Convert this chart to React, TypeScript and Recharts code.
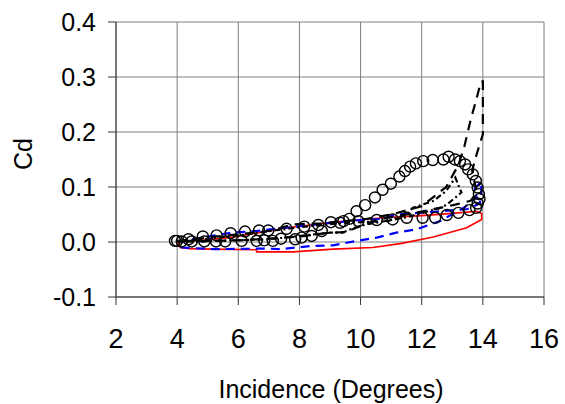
import React from 'react'
import {
  ComposedChart,
  Line,
  Scatter,
  XAxis,
  YAxis,
  CartesianGrid,
} from 'recharts'

// experiment (open circles)
const expIncidence = [
  4.0, 4.37, 4.84, 5.29, 5.75, 6.22, 6.68, 6.98, 7.58, 8.16, 8.62, 9.03, 9.44, 9.63,
  9.87, 10.15, 10.47, 10.72, 10.99, 11.27, 11.45, 11.62, 11.81, 12.05, 12.36, 12.71,
  12.88, 13.09, 13.25, 13.42, 13.52, 13.67, 13.77, 13.83, 13.87, 13.89, 13.83, 13.78,
  13.56, 13.2, 12.82, 12.44, 12.03, 11.51, 11.05, 10.53, 9.93, 9.33, 8.73, 8.4, 8.07,
  7.86, 7.4, 7.13, 6.85, 6.6, 6.11, 5.57, 5.27, 4.89, 4.48, 4.15, 3.93,
]
const expCd = [
  0.002, 0.005, 0.01, 0.012, 0.016, 0.019, 0.021, 0.021, 0.024, 0.028, 0.031, 0.036,
  0.038, 0.042, 0.056, 0.067, 0.081, 0.095, 0.106, 0.119, 0.129, 0.137, 0.143, 0.147,
  0.149, 0.15, 0.155, 0.15, 0.147, 0.141, 0.132, 0.123, 0.111, 0.099, 0.087, 0.078,
  0.07, 0.062, 0.058, 0.053, 0.049, 0.044, 0.044, 0.044, 0.041, 0.04, 0.038, 0.035,
  0.02, 0.011, 0.008, 0.005, 0.006, 0.002, 0.003, 0.002, 0.002, 0.001, 0.001, 0.001,
  0.001, 0.001, 0.002,
]

// red solid loop
const redIncidence = [
  4, 5, 5.7, 7, 7.6, 9, 10, 11, 12, 13, 13.8, 13.96, 13.96, 13.47, 12.38, 11.3, 10.4,
  9.1, 7.8, 6.6, 6.6, 5.1, 4.4, 4.1, 4,
]
const redCd = [
  0.0, 0.004, 0.008, 0.02, 0.026, 0.035, 0.041, 0.045, 0.048, 0.052, 0.056, 0.052,
  0.041, 0.026, 0.009, -0.003, -0.01, -0.013, -0.018, -0.018, -0.014, -0.013, -0.012,
  -0.01, 0.0,
]

// blue dashed loop
const blueIncidence = [
  4, 5, 5.8, 6.6, 8.2, 10, 10.7, 11.2, 12.6, 13.5, 13.9, 13.95, 13.95, 13.7, 13.8,
  13.37, 12.6, 11.83, 11.17, 10.53, 9.87, 9.1, 8.45, 7.36, 6.93, 5.18, 4.15, 4,
]
const blueCd = [
  0.0, 0.01, 0.017, 0.02, 0.03, 0.04, 0.042, 0.05, 0.056, 0.06, 0.07, 0.09, 0.11,
  0.095, 0.081, 0.062, 0.038, 0.023, 0.017, 0.008, 0.002, -0.006, -0.007, -0.013,
  -0.012, -0.013, -0.01, -0.005,
]

// black long dash loop (with the spike at 14 deg)
const dashIncidence = [
  4, 5, 6, 7, 7.8, 8.7, 9.5, 10.2, 11, 12, 12.8, 13.2, 13.4, 13.6, 13.8, 13.94, 14,
  14, 13.9, 13.8, 13.65, 13.8, 13.6, 13.1, 12.6, 11.5, 10.5, 9.5, 9.0, 8.0, 7.0, 6.0,
  5.0, 4.0,
]
const dashCd = [
  0.002, 0.008, 0.014, 0.02, 0.032, 0.034, 0.038, 0.042, 0.05, 0.065, 0.1, 0.14, 0.175,
  0.222, 0.262, 0.292, 0.292, 0.196, 0.178, 0.16, 0.13, 0.09, 0.075, 0.068, 0.062,
  0.05, 0.04, 0.018, 0.017, 0.01, 0.006, 0.003, 0.002, 0.002,
]

// black dash-dot loop
const dotIncidence = [
  4, 6, 8, 9.5, 10.9, 11.5, 11.7, 12.4, 12.8, 13.1, 13.3, 12.82, 12.6, 11.5, 10.2,
  9.8, 9.4, 9.0, 7.0, 4.0,
]
const dotCd = [
  0.0, 0.012, 0.027, 0.035, 0.038, 0.05, 0.062, 0.075, 0.093, 0.117, 0.09, 0.068,
  0.062, 0.045, 0.032, 0.026, 0.017, 0.017, 0.005, 0.0,
]

const xTicks = [2, 4, 6, 8, 10, 12, 14, 16]
const yTicks = [-0.1, 0, 0.1, 0.2, 0.3, 0.4]

const zip = (xs: number[], ys: number[]) => xs.map((x, i) => ({ x, y: ys[i] }))

const expData = zip(expIncidence, expCd)
const redData = zip(redIncidence, redCd)
const blueData = zip(blueIncidence, blueCd)
const dashData = zip(dashIncidence, dashCd)
const dotData = zip(dotIncidence, dotCd)

const font = '"Liberation Sans", Arial, sans-serif'

const OpenCircle = (p: any) => (
  <circle cx={p.cx} cy={p.cy} r={5.5} fill="none" stroke="#000" strokeWidth={1.4} />
)

export default function App() {
  return (
    <div style={{ width: 565, height: 404, background: '#fff', fontFamily: font }}>
      <style>{'body{margin:0}'}</style>
      <ComposedChart
        width={565}
        height={404}
        margin={{ top: 22, right: 21, bottom: 0, left: 0 }}
      >
        <CartesianGrid stroke="#7f7f7f" strokeWidth={1} ticks={undefined} />
        <XAxis
          type="number"
          dataKey="x"
          domain={[2, 16]}
          ticks={xTicks}
          interval={0}
          height={107}
          tickSize={8}
          tickMargin={24}
          stroke="#333"
          tick={{ fill: '#000', fontSize: 27, fontFamily: font }}
          label={{
            content: () => (
              <text x={331} y={398} textAnchor="middle" fontSize={25} fontFamily={font} fill="#000">
                Incidence (Degrees)
              </text>
            ),
          }}
        />
        <YAxis
          type="number"
          dataKey="y"
          domain={[-0.1, 0.4]}
          ticks={yTicks}
          interval={0}
          width={116}
          tickSize={8}
          tickMargin={12}
          stroke="#333"
          tickFormatter={(v: number) => v.toFixed(1)}
          tick={{ fill: '#000', fontSize: 25, fontFamily: font }}
          label={{
            content: () => (
              <text
                x={23}
                y={154}
                transform="rotate(-90,23,154)"
                textAnchor="middle"
                dominantBaseline="central"
                fontSize={25}
                fontFamily={font}
                fill="#000"
              >
                Cd
              </text>
            ),
          }}
        />
        <Line
          data={redData}
          dataKey="y"
          type="linear"
          stroke="#ff0000"
          strokeWidth={1.6}
          dot={false}
          isAnimationActive={false}
        />
        <Line
          data={blueData}
          dataKey="y"
          type="linear"
          stroke="#0000ff"
          strokeWidth={2.2}
          strokeDasharray="9 6"
          dot={false}
          isAnimationActive={false}
        />
        <Line
          data={dashData}
          dataKey="y"
          type="linear"
          stroke="#000"
          strokeWidth={2.2}
          strokeDasharray="10 7"
          dot={false}
          isAnimationActive={false}
        />
        <Line
          data={dotData}
          dataKey="y"
          type="linear"
          stroke="#000"
          strokeWidth={2.2}
          strokeDasharray="6 3 2 3"
          dot={false}
          isAnimationActive={false}
        />
        <Scatter
          data={expData}
          dataKey="y"
          shape={OpenCircle}
          isAnimationActive={false}
        />
      </ComposedChart>
    </div>
  )
}
